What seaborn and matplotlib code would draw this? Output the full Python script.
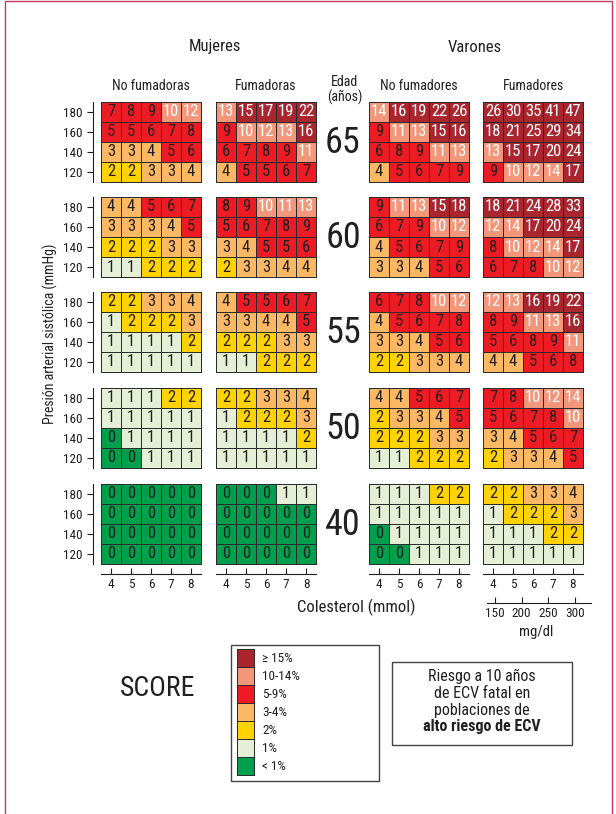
import numpy as np
import pandas as pd
import matplotlib
matplotlib.use("Agg")
import matplotlib.pyplot as plt
import matplotlib.font_manager as fm
from matplotlib.colors import ListedColormap, BoundaryNorm
from matplotlib.patches import Rectangle
from matplotlib.lines import Line2D
import seaborn as sns

# ---------------- data ----------------
ages = [65, 60, 55, 50, 40]
sbp_labels = ["180", "160", "140", "120"]
chol_labels = ["4", "5", "6", "7", "8"]
mgdl_ticks = [150, 200, 250, 300]

women_nonsmoker = [
    [[7, 8, 9, 10, 12], [5, 5, 6, 7, 8], [3, 3, 4, 5, 6], [2, 2, 3, 3, 4]],
    [[4, 4, 5, 6, 7], [3, 3, 3, 4, 5], [2, 2, 2, 3, 3], [1, 1, 2, 2, 2]],
    [[2, 2, 3, 3, 4], [1, 2, 2, 2, 3], [1, 1, 1, 1, 2], [1, 1, 1, 1, 1]],
    [[1, 1, 1, 2, 2], [1, 1, 1, 1, 1], [0, 1, 1, 1, 1], [0, 0, 1, 1, 1]],
    [[0, 0, 0, 0, 0], [0, 0, 0, 0, 0], [0, 0, 0, 0, 0], [0, 0, 0, 0, 0]],
]
women_smoker = [
    [[13, 15, 17, 19, 22], [9, 10, 12, 13, 16], [6, 7, 8, 9, 11], [4, 5, 5, 6, 7]],
    [[8, 9, 10, 11, 13], [5, 6, 7, 8, 9], [3, 4, 5, 5, 6], [2, 3, 3, 4, 4]],
    [[4, 5, 5, 6, 7], [3, 3, 4, 4, 5], [2, 2, 2, 3, 3], [1, 1, 2, 2, 2]],
    [[2, 2, 3, 3, 4], [1, 2, 2, 2, 3], [1, 1, 1, 1, 2], [1, 1, 1, 1, 1]],
    [[0, 0, 0, 1, 1], [0, 0, 0, 0, 0], [0, 0, 0, 0, 0], [0, 0, 0, 0, 0]],
]
men_nonsmoker = [
    [[14, 16, 19, 22, 26], [9, 11, 13, 15, 16], [6, 8, 9, 11, 13], [4, 5, 6, 7, 9]],
    [[9, 11, 13, 15, 18], [6, 7, 9, 10, 12], [4, 5, 6, 7, 9], [3, 3, 4, 5, 6]],
    [[6, 7, 8, 10, 12], [4, 5, 6, 7, 8], [3, 3, 4, 5, 6], [2, 2, 3, 3, 4]],
    [[4, 4, 5, 6, 7], [2, 3, 3, 4, 5], [2, 2, 2, 3, 3], [1, 1, 2, 2, 2]],
    [[1, 1, 1, 2, 2], [1, 1, 1, 1, 1], [0, 1, 1, 1, 1], [0, 0, 1, 1, 1]],
]
men_smoker = [
    [[26, 30, 35, 41, 47], [18, 21, 25, 29, 34], [13, 15, 17, 20, 24], [9, 10, 12, 14, 17]],
    [[18, 21, 24, 28, 33], [12, 14, 17, 20, 24], [8, 10, 12, 14, 17], [6, 7, 8, 10, 12]],
    [[12, 13, 16, 19, 22], [8, 9, 11, 13, 16], [5, 6, 8, 9, 11], [4, 4, 5, 6, 8]],
    [[7, 8, 10, 12, 14], [5, 6, 7, 8, 10], [3, 4, 5, 6, 7], [2, 3, 3, 4, 5]],
    [[2, 2, 3, 3, 4], [1, 2, 2, 2, 3], [1, 1, 1, 2, 2], [1, 1, 1, 1, 1]],
]
group_titles = ["No fumadoras", "Fumadoras", "No fumadores", "Fumadores"]
legend_labels = ["\u2265 15%", "10-14%", "5-9%", "3-4%", "2%", "1%", "< 1%"]
legend_values = [15, 10, 5, 3, 2, 1, 0]
risk_colors = ["#009f4d", "#e5efd5", "#ffd200", "#fdb864", "#ed1c24", "#f4967a", "#a9262f"]
risk_bounds = [-0.5, 0.5, 1.5, 2.5, 4.5, 9.5, 14.5, 100]

# ---------------- style ----------------
sns.set_theme(style="white")
cands = []
for f in fm.fontManager.ttflist:
    st = str(f.stretch).lower()
    if ("narrow" in f.name.lower() or "condensed" in f.name.lower()
            or "condensed" in st or (st.isdigit() and int(st) < 500)):
        cands.append((f.name, st, f.weight, f.style))
cands = sorted(set(cands))
pick = None
for pref in ["Liberation Sans Narrow", "Roboto Condensed", "Noto Sans Condensed",
             "Open Sans Condensed", "DejaVu Sans", "Noto Sans", "Roboto", "Open Sans"]:
    for c in cands:
        if c[0] == pref and c[3] == "normal":
            pick = c
            break
    if pick:
        break
if pick:
    FONT = [pick[0], "DejaVu Sans"]
    STRETCH = pick[1] if not pick[1].isdigit() else int(pick[1])
else:
    FONT = ["Liberation Sans", "DejaVu Sans"]
    STRETCH = "normal"
plt.rcParams["font.family"] = FONT
plt.rcParams["font.stretch"] = STRETCH
TXT = "#231f20"

W, H = 616, 814
fig = plt.figure(figsize=(W / 100, H / 100), dpi=100)
fig.patch.set_facecolor("white")


def rect(x, y, w, h):
    return [x / W, 1 - (y + h) / H, w / W, h / H]


def ftext(x, y, s, **kw):
    kw.setdefault("ha", "center")
    kw.setdefault("va", "center")
    kw.setdefault("color", TXT)
    fig.text(x / W, 1 - y / H, s, **kw)


cmap = ListedColormap(risk_colors)
norm = BoundaryNorm(risk_bounds, cmap.N)

groups = [women_nonsmoker, women_smoker, men_nonsmoker, men_smoker]
col_x = [101, 216, 369, 483]
block_y = [102, 197, 292, 388, 484]
GW, GH = 100, 80
LW = 0.6
LC = "#2b2b2b"

for gi, grp in enumerate(groups):
    for ai, age in enumerate(ages):
        ax = fig.add_axes(rect(col_x[gi], block_y[ai], GW, GH))
        df = pd.DataFrame(grp[ai], index=sbp_labels, columns=chol_labels)
        sns.heatmap(df, ax=ax, cmap=cmap, norm=norm, annot=True, fmt="d",
                    cbar=False, linewidths=LW, linecolor=LC,
                    annot_kws=dict(fontsize=12))
        ax.collections[0].set_clip_on(False)
        for t in ax.texts:
            v = int(t.get_text())
            t.set_color("white" if v >= 10 else TXT)
        ax.set_xlabel("")
        ax.set_ylabel("")
        if gi == 0:
            ax.spines["left"].set_visible(True)
            ax.spines["left"].set_position(("outward", 6))
            ax.spines["left"].set_color(TXT)
            ax.spines["left"].set_linewidth(0.8)
            ax.tick_params(axis="y", left=True, length=4, width=0.8, color=TXT,
                           labelsize=9.5, labelcolor=TXT, pad=3)
            ax.set_yticklabels(sbp_labels, rotation=0)
        else:
            ax.set_yticks([])
        if ai == len(ages) - 1:
            ax.spines["bottom"].set_visible(True)
            ax.spines["bottom"].set_position(("outward", 7))
            ax.spines["bottom"].set_color(TXT)
            ax.spines["bottom"].set_linewidth(0.8)
            ax.tick_params(axis="x", bottom=True, direction="in", length=4, width=0.8,
                           color=TXT, labelsize=9.5, labelcolor=TXT, pad=3)
            ax.set_xticklabels(chol_labels, rotation=0)
        else:
            ax.set_xticks([])

# mg/dl secondary scale under the male smokers
px_per = 80 / 150.0
ax2_x0, ax2_x1 = 487, 591
axm = fig.add_axes(rect(ax2_x0, 598, ax2_x1 - ax2_x0, 5))
axm.set_xlim(150 - (495 - ax2_x0) / px_per, 150 + (ax2_x1 - 495) / px_per)
axm.set_ylim(0, 1)
sns.despine(ax=axm, left=True, top=True, right=True)
axm.spines["bottom"].set_color(TXT)
axm.spines["bottom"].set_linewidth(0.8)
axm.set_yticks([])
axm.set_xticks(mgdl_ticks)
axm.set_xticklabels([str(v) for v in mgdl_ticks])
axm.tick_params(axis="x", bottom=True, direction="in", length=4, width=0.8, color=TXT,
                labelsize=9.5, labelcolor=TXT, pad=3)
axm.patch.set_alpha(0)

# headers
ftext(215, 47, "Mujeres", fontsize=12)
ftext(475, 47, "Varones", fontsize=12)
for gi, t in enumerate(group_titles):
    ftext(col_x[gi] + GW / 2, 86, t, fontsize=10)
ftext(345, 90, "Edad\n(años)", fontsize=10, linespacing=1.0)
for ai, age in enumerate(ages):
    ftext(343, block_y[ai] + GH / 2 + 1, str(age), fontsize=26)

ftext(50, 334, "Presión arterial sistólica (mmHg)", fontsize=10, rotation=90)
ftext(356, 607, "Colesterol (mmol)", fontsize=12)
ftext(536, 632, "mg/dl", fontsize=10.5)
ftext(158, 688, "SCORE", fontsize=20)

# legend as a one-column heatmap
LEG_TOP, LEG_STEP, LEG_X, LEG_W = 649, 18, 237, 17
axl = fig.add_axes(rect(LEG_X, LEG_TOP, LEG_W, LEG_STEP * len(legend_labels)))
ldf = pd.DataFrame({"v": legend_values}, index=legend_labels)
sns.heatmap(ldf, ax=axl, cmap=cmap, norm=norm, annot=False, cbar=False,
            linewidths=LW, linecolor=LC)
axl.collections[0].set_clip_on(False)
axl.set_xticks([])
axl.set_yticks([])
axl.set_xlabel("")
axl.set_ylabel("")
for i, lab in enumerate(legend_labels):
    axl.text((262 - LEG_X) / LEG_W, i + 0.5, lab, ha="left", va="center",
             fontsize=9.5, color=TXT, clip_on=False)

fig.patches.append(Rectangle((231 / W, 1 - 781 / H), 148 / W, 136 / H,
                             transform=fig.transFigure, fill=False,
                             ec="#444444", lw=1.0))
fig.patches.append(Rectangle((392 / W, 1 - 745 / H), 180 / W, 83 / H,
                             transform=fig.transFigure, fill=False,
                             ec="#444444", lw=1.0))
ftext(482, 676, "Riesgo a 10 años", fontsize=11.5)
ftext(482, 693, "de ECV fatal en", fontsize=11.5)
ftext(482, 710, "poblaciones de", fontsize=11.5)
ftext(482, 727, "alto riesgo de ECV", fontsize=11.5, fontweight="bold")

# outer frame (left, top, right)
FC = "#c4375e"
fig.lines.append(Line2D([4.5 / W, 4.5 / W, 611.5 / W, 611.5 / W],
                        [0, 1 - 0.5 / H, 1 - 0.5 / H, 0],
                        transform=fig.transFigure, color=FC, lw=1.0))

fig.savefig("out.png", dpi=100)
